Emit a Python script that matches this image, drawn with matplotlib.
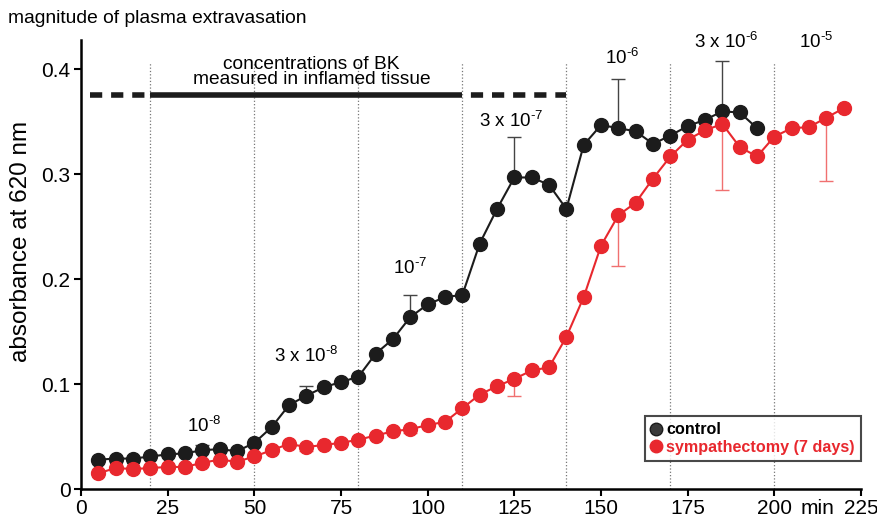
import matplotlib.pyplot as plt
import numpy as np

plt.rcParams['font.family'] = ['Liberation Sans', 'DejaVu Sans']
plt.rcParams['mathtext.fontset'] = 'custom'
plt.rcParams['mathtext.rm'] = 'Liberation Sans'
plt.rcParams['mathtext.default'] = 'regular'

# time points (min)
t_ctrl = np.arange(5, 200, 5)
t_symp = np.arange(5, 225, 5)

ctrl = [0.028, 0.029, 0.029, 0.031, 0.033, 0.034, 0.037, 0.038, 0.036, 0.044,
        0.059, 0.080, 0.089, 0.097, 0.102, 0.107, 0.129, 0.143, 0.164, 0.176,
        0.183, 0.185, 0.234, 0.267, 0.297, 0.297, 0.290, 0.267, 0.328, 0.347,
        0.344, 0.341, 0.329, 0.337, 0.346, 0.352, 0.360, 0.359, 0.344]

symp = [0.015, 0.020, 0.019, 0.020, 0.021, 0.021, 0.025, 0.028, 0.026, 0.031,
        0.037, 0.043, 0.040, 0.042, 0.044, 0.047, 0.051, 0.055, 0.057, 0.061,
        0.064, 0.077, 0.090, 0.098, 0.105, 0.113, 0.116, 0.145, 0.183, 0.232,
        0.261, 0.273, 0.296, 0.317, 0.333, 0.342, 0.348, 0.326, 0.317, 0.336,
        0.344, 0.345, 0.354, 0.363]

# one-sided SEM bars (control up, sympathectomy down)
ctrl_err_t = [35, 65, 95, 125, 155, 185]
ctrl_err = [0.005, 0.009, 0.021, 0.039, 0.047, 0.048]
symp_err_t = [65, 95, 125, 155, 185, 215]
symp_err = [0.004, 0.004, 0.016, 0.048, 0.063, 0.060]

# BK concentration annotations
conc_labels = [r'10$^{\text{-}8}$', r'3 x 10$^{\text{-}8}$', r'10$^{\text{-}7}$',
               r'3 x 10$^{\text{-}7}$', r'10$^{\text{-}6}$', r'3 x 10$^{\text{-}6}$',
               r'10$^{\text{-}5}$']
conc_x = [35.5, 65, 95, 124, 156, 186, 212]
conc_y = [0.060, 0.127, 0.211, 0.351, 0.411, 0.426, 0.426]
switch_t = [20, 50, 80, 110, 140, 170, 200]

black = '#1c1c1c'
red = '#e8282e'

fig = plt.figure(figsize=(8.77, 5.19), dpi=100)
ax = fig.add_axes([0.0924, 0.0578, 0.8894, 0.865])

for t in switch_t:
    ax.plot([t, t], [0, 0.407], ls=':', color='#777777', lw=0.9, zorder=1)

# BK level in inflamed tissue
ax.plot([2.5, 20], [0.376, 0.376], ls=(0, (2.2, 1.6)), color=black, lw=4, zorder=2)
ax.plot([20, 110], [0.376, 0.376], ls='-', color=black, lw=4, solid_capstyle='butt', zorder=2)
ax.plot([110, 140], [0.376, 0.376], ls=(2.2, (2.2, 1.6)), color=black, lw=4, zorder=2)
ax.text(66.5, 0.3975, 'concentrations of BK\nmeasured in inflamed tissue',
        ha='center', va='center', fontsize=13.8, linespacing=0.9)

ci = [list(t_ctrl).index(t) for t in ctrl_err_t]
si = [list(t_symp).index(t) for t in symp_err_t]
ax.errorbar(ctrl_err_t, [ctrl[i] for i in ci], yerr=[np.zeros(len(ctrl_err)), ctrl_err],
            fmt='none', ecolor='#444444', elinewidth=1, capsize=5, capthick=1, zorder=3)
ax.errorbar(symp_err_t, [symp[i] for i in si], yerr=[symp_err, np.zeros(len(symp_err))],
            fmt='none', ecolor='#f07070', elinewidth=1, capsize=5, capthick=1, zorder=3)

ax.plot(t_ctrl, ctrl, '-o', color=black, ms=10, lw=1.5, zorder=4)
ax.plot(t_symp, symp, '-o', color=red, ms=10, lw=1.5, zorder=4)

for lab, x, y in zip(conc_labels, conc_x, conc_y):
    ax.text(x, y, lab, ha='center', va='center', fontsize=13.5)

ax.set_xlim(0, 225)
ax.set_ylim(0, 0.428)
ax.set_xticks(np.arange(0, 226, 25))
ax.set_yticks([0, 0.1, 0.2, 0.3, 0.4])
ax.set_yticklabels(['0', '0.1', '0.2', '0.3', '0.4'])
ax.tick_params(labelsize=15, width=1.5, length=5, direction='out', pad=2.5)
ax.spines['top'].set_visible(False)
ax.spines['right'].set_visible(False)
ax.spines['left'].set_linewidth(1.8)
ax.spines['bottom'].set_linewidth(1.8)
ax.text(212.5, -0.0095, 'min', ha='center', va='top', fontsize=15)

fig.text(0.0235, 0.534, 'absorbance at 620 nm', fontsize=17.5, rotation=90,
         ha='center', va='center')
fig.text(0.009, 0.965, 'magnitude of plasma extravasation', fontsize=13.9, ha='left', va='center')

# legend box
h1, = ax.plot([], [], 'o', color='#3a3a3a', mec=black, ms=9)
h2, = ax.plot([], [], 'o', color=red, ms=9)
leg = ax.legend([h1, h2], ['control', 'sympathectomy (7 days)'], loc='lower right',
                bbox_to_anchor=(1.0, 0.062), borderaxespad=0, fancybox=False, edgecolor=black,
                handlelength=0.6, handletextpad=0.3, borderpad=0.4, labelspacing=0.15,
                prop={'weight': 'bold', 'size': 11.6})
leg.get_frame().set_linewidth(1.5)
leg.get_texts()[1].set_color(red)

fig.savefig('out.png', dpi=100)
